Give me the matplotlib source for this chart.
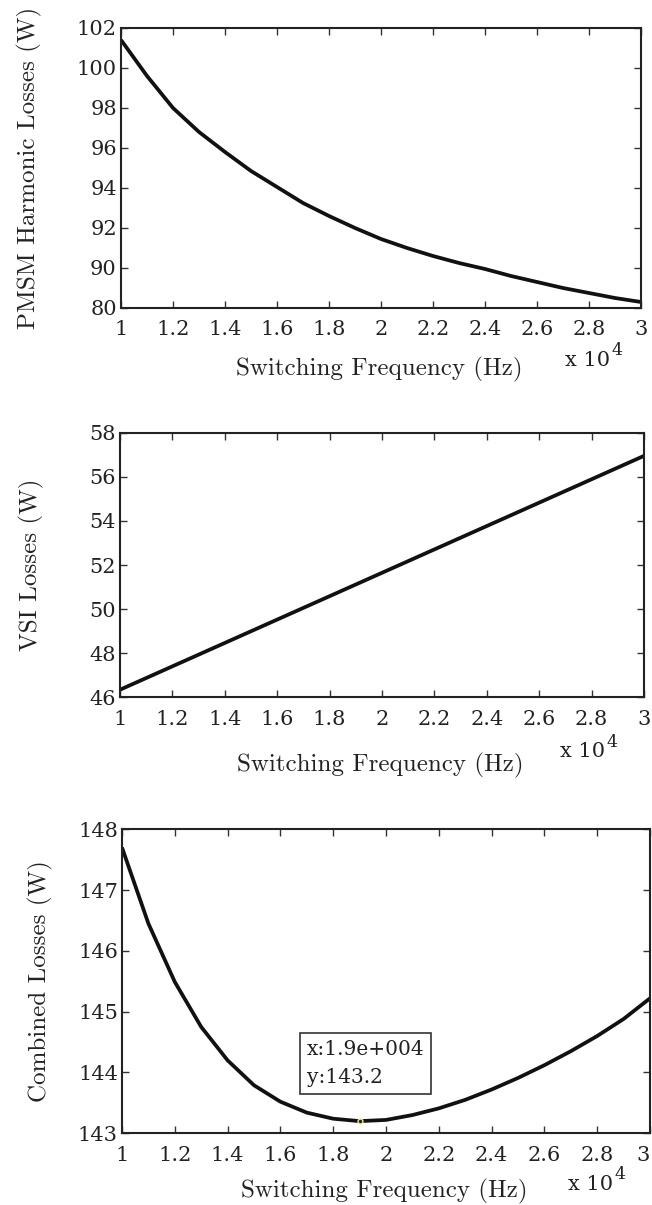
import numpy as np
import matplotlib.pyplot as plt

# switching frequency (Hz), 1 kHz steps
freq = [10000, 11000, 12000, 13000, 14000, 15000, 16000, 17000, 18000, 19000, 20000,
        21000, 22000, 23000, 24000, 25000, 26000, 27000, 28000, 29000, 30000]

# PMSM harmonic losses (W)
pmsm_loss = [101.4, 99.6, 98.0, 96.8, 95.8, 94.85, 94.05, 93.25, 92.6, 92.0, 91.45,
             91.0, 90.6, 90.25, 89.95, 89.6, 89.3, 89.0, 88.75, 88.5, 88.3]

# VSI losses (W)
vsi_loss = [46.35, 46.88, 47.41, 47.94, 48.47, 49.0, 49.53, 50.06, 50.59, 51.12, 51.65,
            52.18, 52.71, 53.24, 53.77, 54.3, 54.83, 55.36, 55.89, 56.42, 56.95]

# combined losses (W)
comb_loss = [147.7, 146.45, 145.49, 144.75, 144.2, 143.79, 143.52, 143.34, 143.24, 143.2, 143.22,
             143.3, 143.41, 143.55, 143.72, 143.91, 144.12, 144.35, 144.6, 144.88, 145.22]

xticks = [10000, 12000, 14000, 16000, 18000, 20000, 22000, 24000, 26000, 28000, 30000]
xtick_labels = ['1', '1.2', '1.4', '1.6', '1.8', '2', '2.2', '2.4', '2.6', '2.8', '3']

pmsm_yticks = [88, 90, 92, 94, 96, 98, 100, 102]
pmsm_ytick_labels = ['80', '90', '92', '94', '96', '98', '100', '102']
vsi_yticks = [46, 48, 50, 52, 54, 56, 58]
comb_yticks = [143, 144, 145, 146, 147, 148]

tip_x, tip_y = 19000, 143.2

tick_font = dict(fontfamily='DejaVu Serif', fontsize=15)
label_font = dict(fontfamily='cmr10', fontsize=18)

fig = plt.figure(figsize=(6.52, 12.05), dpi=100)
ax1 = fig.add_axes([0.1856, 0.7444, 0.7975, 0.2324])
ax2 = fig.add_axes([0.1840, 0.4212, 0.8037, 0.2197])
ax3 = fig.add_axes([0.1871, 0.0595, 0.8098, 0.2523])

# (axes, series, yticks, ytick labels, ylabel, ylabel x, xlabel y, exponent x, exponent y)
panels = [
    (ax1, pmsm_loss, pmsm_yticks, pmsm_ytick_labels, 'PMSM Harmonic Losses (W)',
     -0.177, -0.221, 0.940, -0.186),
    (ax2, vsi_loss, vsi_yticks, [str(t) for t in vsi_yticks], 'VSI Losses (W)',
     -0.168, -0.255, 0.926, -0.206),
    (ax3, comb_loss, comb_yticks, [str(t) for t in comb_yticks], 'Combined Losses (W)',
     -0.155, -0.190, 0.930, -0.167),
]

for ax, y, yt, ytl, ylab, ylx, xly, ex, ey in panels:
    ax.plot(freq, y, color='#111111', lw=2.7, solid_capstyle='butt')
    ax.set_xlim(10000, 30000)
    ax.set_ylim(yt[0], yt[-1])
    ax.set_xticks(xticks)
    ax.set_xticklabels(xtick_labels, **tick_font)
    ax.set_yticks(yt)
    ax.set_yticklabels(ytl, **tick_font)
    ax.tick_params(direction='in', length=5, width=1, top=True, right=True,
                   colors='#333333', labelcolor='#222222')
    ax.tick_params(axis='x', pad=9)
    ax.tick_params(axis='y', pad=3)
    for s in ax.spines.values():
        s.set_linewidth(1.5)
        s.set_color('#222222')
    ax.text(0.497, xly, 'Switching Frequency (Hz)', transform=ax.transAxes,
            ha='center', va='center', color='#222222', **label_font)
    ax.text(ylx, 0.5, ylab, transform=ax.transAxes, rotation=90,
            ha='center', va='center', color='#222222', **label_font)
    # exponent note under the x axis
    ax.text(ex, ey, 'x 10', transform=ax.transAxes, ha='right', va='center',
            fontfamily='DejaVu Serif', fontsize=15, color='#222222')
    ax.annotate('4', xy=(ex, ey), xycoords='axes fraction', xytext=(1, 7),
                textcoords='offset points', ha='left', va='center',
                fontfamily='DejaVu Serif', fontsize=12.5, color='#222222')

# last tick label of the bottom panel sits at the figure edge
ax3.get_xticklabels()[-1].set_horizontalalignment('right')

# data tip on the combined curve
ax3.plot([tip_x], [tip_y], marker='o', ms=3.5, mfc='#222222', mec='#f0e8a0', mew=1)
ax3.text(17000, 144.53, 'x:1.9e+004\ny:143.2', ha='left', va='top',
         fontfamily='DejaVu Serif', fontsize=14.5, linespacing=1.55, color='#222222',
         bbox=dict(boxstyle='square,pad=0.35', fc='white', ec='#333333', lw=1.2))

fig.savefig('out.png', dpi=100)
